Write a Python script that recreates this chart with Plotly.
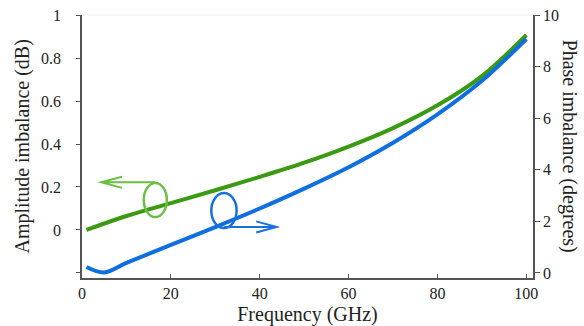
import plotly.graph_objects as go

# Data
freq_amp = [1, 10, 20, 30, 40, 50, 60, 70, 80, 90, 100]
amp_db = [0.0, 0.065, 0.125, 0.185, 0.247, 0.313, 0.388, 0.474, 0.58, 0.716, 0.907]

freq_phase = [1, 5, 10, 20, 30, 40, 50, 60, 70, 80, 90, 100]
phase_deg = [0.23, 0.02, 0.39, 1.09, 1.78, 2.5, 3.27, 4.1, 5.05, 6.15, 7.45, 9.07]

x_ticks = [0, 20, 40, 60, 80, 100]
left_ticks = [-0.2, 0, 0.2, 0.4, 0.6, 0.8, 1]
left_text = ["", "0", "0.2", "0.4", "0.6", "0.8", "1"]
right_ticks = [0, 2, 4, 6, 8, 10]

GREEN = "#3a9a12"
BLUE = "#0f6fe0"
GREEN_L = "#6cbf45"
BLUE_L = "#1a70dc"
FONT = "Liberation Serif"
TXT = "#222222"
AX = "#555555"

fig = go.Figure()
fig.add_trace(go.Scatter(x=freq_amp, y=amp_db, mode="lines", line=dict(color=GREEN, width=4, shape="spline"),
                         yaxis="y", showlegend=False))
fig.add_trace(go.Scatter(x=freq_phase, y=phase_deg, mode="lines", line=dict(color=BLUE, width=4, shape="spline"),
                         yaxis="y2", showlegend=False))

shapes = []
shapes.append(dict(type="line", xref="paper", yref="paper", x0=0, x1=1, y0=1, y1=1,
                   line=dict(color="#eeeeee", width=1)))
shapes.append(dict(type="circle", xref="x", yref="y", x0=13.9, x1=19.1, y0=0.06, y1=0.219,
                   line=dict(color=GREEN_L, width=2.5)))
shapes.append(dict(type="path", xref="x", yref="y",
                   path="M 16.5,0.222 L 4.3,0.222 M 9.0,0.248 L 4.3,0.222 L 9.0,0.196",
                   line=dict(color=GREEN_L, width=2)))
shapes.append(dict(type="circle", xref="x", yref="y", x0=29.1, x1=34.8, y0=0.009, y1=0.172,
                   line=dict(color=BLUE_L, width=2.5)))
shapes.append(dict(type="path", xref="x", yref="y",
                   path="M 32.0,0.014 L 43.8,0.014 M 39.2,0.040 L 43.8,0.014 L 39.2,-0.012",
                   line=dict(color=BLUE_L, width=2)))

fig.update_layout(
    width=584, height=326,
    margin=dict(l=82, r=51, t=15, b=48),
    paper_bgcolor="white", plot_bgcolor="white",
    font=dict(family=FONT, color=TXT, size=16),
    shapes=shapes,
    xaxis=dict(range=[0, 101.5], tickvals=x_ticks, ticks="inside", ticklen=4, tickcolor=AX,
               showline=True, linecolor=AX, linewidth=1.5, showgrid=False, zeroline=False,
               ticklabelstandoff=0, automargin=False,
               title=dict(text="Frequency (GHz)", font=dict(size=20)),
               tickfont=dict(size=16)),
    yaxis=dict(range=[-0.2233, 1.0], tickvals=left_ticks, ticktext=left_text, ticks="outside",
               ticklen=4, tickcolor=AX, showline=True, linecolor=AX, linewidth=1.5,
               showgrid=False, zeroline=False, tickfont=dict(size=16), ticklabelstandoff=12,
               automargin=False),
    yaxis2=dict(range=[-0.194, 10], tickvals=right_ticks, overlaying="y", side="right",
                ticks="outside", ticklen=5, tickcolor=AX, showline=True, linecolor=AX,
                linewidth=1.5, showgrid=False, zeroline=False, tickfont=dict(size=16),
                automargin=False),
    annotations=[
        dict(text="Amplitude imbalance (dB)", xref="paper", yref="paper", x=-0.133, y=0.5,
             textangle=-90, showarrow=False, font=dict(size=20, family=FONT, color=TXT),
             xanchor="center", yanchor="middle"),
        dict(text="Phase imbalance (degrees)", xref="paper", yref="paper", x=1.082, y=0.5,
             textangle=90, showarrow=False, font=dict(size=20, family=FONT, color=TXT),
             xanchor="center", yanchor="middle"),
    ],
)

fig.write_html("out.html")
